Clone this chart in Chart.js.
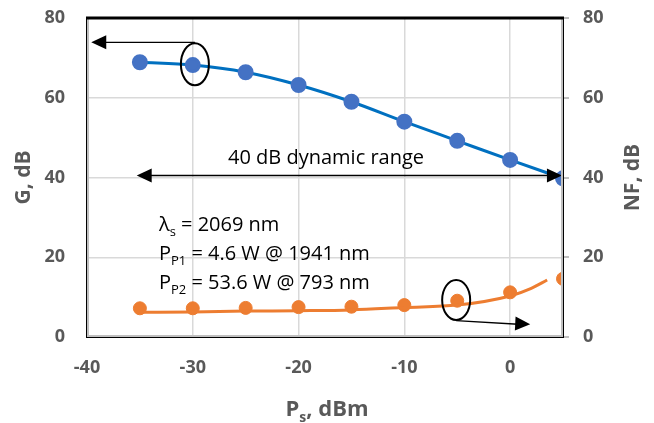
<!DOCTYPE html>
<html>
<head>
<meta charset="utf-8">
<script src="https://cdn.jsdelivr.net/npm/chart.js@4.4.1/dist/chart.umd.min.js"></script>
<style>
  html, body { margin: 0; padding: 0; background: #fff; }
  #wrap { width: 654px; height: 423px; }
</style>
</head>
<body>
<div id="wrap"><canvas id="chart"></canvas></div>
<script>
// signal power, dBm
const signalPower = [-35, -30, -25, -20, -15, -10, -5, 0, 5];
// gain G, dB (left axis)
const gainValues  = [68.9, 68.2, 66.4, 63.2, 59.0, 54.0, 49.2, 44.4, 39.8];
// noise figure NF, dB (right axis)
const nfValues    = [7.2, 7.2, 7.3, 7.5, 7.6, 8.0, 9.1, 11.2, 14.6];
// NF trend line
const nfTrendX    = [-35, -30, -25, -20, -15, -10, -5, 0, 2, 3.5];
const nfTrendY    = [6.2, 6.3, 6.5, 6.6, 6.8, 7.4, 8.0, 10.3, 12.2, 14.3];

const xTicks = [-40, -30, -20, -10, 0];
const yTicks = [0, 20, 40, 60, 80];

const FONT = "'Open Sans'";
const tickColor = "#595959";
const tickFont  = { family: "Open Sans", size: 18, weight: "bold" };

function toPoints(xs, ys)
{
    let pts = [];
    for(let i = 0; i < xs.length; i++)
    {
        pts.push({ x: xs[i], y: ys[i] });
    }
    return pts;
}

function setTicks(list)
{
    return function(scale) {
        scale.ticks = list.map(v => ({ value: v }));
    };
}

// draw text made of pieces, some as subscripts
function drawRich(ctx, parts, x, y, size, bold)
{
    let weight = bold ? "bold " : "";
    for(let i = 0; i < parts.length; i++)
    {
        let txt = parts[i][0];
        let sub = parts[i][1];
        ctx.font = weight + (sub ? Math.round(size * 0.65) : size) + "px " + FONT;
        ctx.fillText(txt, x, sub ? y + size * 0.25 : y);
        x += ctx.measureText(txt).width;
    }
}

function richWidth(ctx, parts, size, bold)
{
    let weight = bold ? "bold " : "";
    let w = 0;
    for(let i = 0; i < parts.length; i++)
    {
        ctx.font = weight + (parts[i][1] ? Math.round(size * 0.65) : size) + "px " + FONT;
        w += ctx.measureText(parts[i][0]).width;
    }
    return w;
}

function arrowHead(ctx, x1, y1, x2, y2)
{
    let ang = Math.atan2(y2 - y1, x2 - x1);
    let len = 15, half = 7;
    ctx.beginPath();
    ctx.moveTo(x2, y2);
    ctx.lineTo(x2 - len * Math.cos(ang) + half * Math.sin(ang), y2 - len * Math.sin(ang) - half * Math.cos(ang));
    ctx.lineTo(x2 - len * Math.cos(ang) - half * Math.sin(ang), y2 - len * Math.sin(ang) + half * Math.cos(ang));
    ctx.closePath();
    ctx.fill();
}

const annotations = {
    id: "annotations",
    afterDatasetsDraw(chart) {
        const ctx = chart.ctx;
        const xs = chart.scales.x;
        const ys = chart.scales.y;
        const px = v => xs.getPixelForValue(v);
        const py = v => ys.getPixelForValue(v);

        ctx.save();
        ctx.strokeStyle = "#000";
        ctx.fillStyle = "#000";

        // ellipse on the gain curve + arrow to left axis
        ctx.lineWidth = 2;
        ctx.beginPath();
        ctx.ellipse(px(-29.8), py(68.4), 14, 21, 0, 0, Math.PI * 2);
        ctx.stroke();
        ctx.lineWidth = 1.3;
        ctx.beginPath();
        ctx.moveTo(px(-29.8), py(73.9));
        ctx.lineTo(px(-39.6) + 12, py(73.9));
        ctx.stroke();
        arrowHead(ctx, px(-30), py(73.9), px(-39.6), py(73.9));

        // 40 dB dynamic range double arrow
        ctx.beginPath();
        ctx.moveTo(px(-35.3) + 12, py(40.5));
        ctx.lineTo(px(4.9) - 12, py(40.5));
        ctx.stroke();
        arrowHead(ctx, px(0), py(40.5), px(-35.3), py(40.5));
        arrowHead(ctx, px(-30), py(40.5), px(4.9), py(40.5));

        ctx.font = "20px " + FONT;
        ctx.textAlign = "center";
        ctx.textBaseline = "alphabetic";
        ctx.fillText("40 dB dynamic range", px(-17.4), py(43.5));

        // ellipse on the NF curve + arrow to right axis
        ctx.lineWidth = 2;
        ctx.beginPath();
        ctx.ellipse(px(-5.1), py(9.3), 14, 20, 0, 0, Math.PI * 2);
        ctx.stroke();
        ctx.lineWidth = 1.3;
        ctx.beginPath();
        ctx.moveTo(px(-5.1), py(4.1));
        ctx.lineTo(px(1.9) - 12, py(3.2));
        ctx.stroke();
        arrowHead(ctx, px(-5.1), py(4.1), px(1.9), py(3.2));

        // conditions text
        ctx.textAlign = "left";
        const tx = px(-33.2);
        drawRich(ctx, [["λ", false], ["s", true], [" = 2069 nm", false]], tx, py(26.7), 20, false);
        drawRich(ctx, [["P", false], ["P1", true], [" = 4.6 W @ 1941 nm", false]], tx, py(19.4), 20, false);
        drawRich(ctx, [["P", false], ["P2", true], [" = 53.6 W @ 793 nm", false]], tx, py(12.1), 20, false);
        ctx.restore();
    },
    afterDraw(chart) {
        const ctx = chart.ctx;
        const a = chart.chartArea;
        ctx.save();
        // axis lines (grey) and frame (black)
        ctx.strokeStyle = "#BFBFBF";
        ctx.lineWidth = 2;
        ctx.beginPath();
        ctx.moveTo(a.left + 1, a.top);
        ctx.lineTo(a.left + 1, a.bottom - 1);
        ctx.lineTo(a.right - 1, a.bottom - 1);
        ctx.lineTo(a.right - 1, a.top);
        ctx.stroke();
        ctx.strokeStyle = "#000";
        ctx.lineWidth = 1;
        ctx.strokeRect(a.left - 0.5, a.top, a.right - a.left + 1, a.bottom - a.top + 0.5);
        ctx.lineWidth = 3;
        ctx.beginPath();
        ctx.moveTo(a.left - 1, a.top);
        ctx.lineTo(a.right + 1, a.top);
        ctx.stroke();

        // axis titles
        ctx.fillStyle = tickColor;
        ctx.textBaseline = "middle";
        ctx.textAlign = "center";
        ctx.font = "bold 21px " + FONT;
        const midY = (a.top + a.bottom) / 2;
        ctx.save();
        ctx.translate(24, midY);
        ctx.rotate(-Math.PI / 2);
        ctx.fillText("G, dB", 0, 0);
        ctx.restore();
        ctx.save();
        ctx.translate(633, midY);
        ctx.rotate(-Math.PI / 2);
        ctx.fillText("NF, dB", 0, 0);
        ctx.restore();

        ctx.textAlign = "left";
        ctx.textBaseline = "alphabetic";
        const parts = [["P", false], ["s", true], [", dBm", false]];
        const w = richWidth(ctx, parts, 22, true);
        drawRich(ctx, parts, (a.left + a.right) / 2 - w / 2 + 2, 416, 22, true);
        ctx.restore();
    }
};

function noPad(size, isX)
{
    return function(scale) {
        if(isX) { scale.height = size; } else { scale.width = size; }
        scale.paddingTop = 0;
        scale.paddingBottom = 0;
        scale.paddingLeft = 0;
        scale.paddingRight = 0;
    };
}

new Chart(document.getElementById("chart"), {
    type: "scatter",
    data: {
        datasets: [
            {
                label: "G",
                data: toPoints(signalPower, gainValues),
                showLine: true,
                borderColor: "#0070C0",
                borderWidth: 3,
                cubicInterpolationMode: "monotone",
                pointBackgroundColor: "#4472C4",
                pointBorderColor: "#4472C4",
                pointRadius: 6.5,
                yAxisID: "y"
            },
            {
                label: "NF trend",
                data: toPoints(nfTrendX, nfTrendY),
                showLine: true,
                borderColor: "#ED7D31",
                borderWidth: 3,
                cubicInterpolationMode: "monotone",
                pointRadius: 0,
                yAxisID: "y2"
            },
            {
                label: "NF",
                data: toPoints(signalPower, nfValues),
                showLine: false,
                pointBackgroundColor: "#ED7D31",
                pointBorderColor: "#ED7D31",
                pointRadius: 6.5,
                yAxisID: "y2"
            }
        ]
    },
    options: {
        responsive: true,
        maintainAspectRatio: false,
        animation: false,
        layout: { padding: { top: 18, left: 0, right: 0, bottom: 0 } },
        plugins: {
            legend: { display: false },
            tooltip: { enabled: false }
        },
        scales: {
            x: {
                type: "linear",
                min: -40,
                max: 5,
                afterBuildTicks: setTicks(xTicks),
                afterFit: noPad(86, true),
                grid: { color: "#D9D9D9", lineWidth: 1.5, drawTicks: false },
                border: { display: false },
                ticks: { color: tickColor, font: tickFont, padding: 20 }
            },
            y: {
                position: "left",
                min: 0,
                max: 80,
                afterBuildTicks: setTicks(yTicks),
                afterFit: noPad(87, false),
                grid: { color: "#D9D9D9", lineWidth: 1.5, drawTicks: false },
                border: { display: false },
                ticks: { color: tickColor, font: tickFont, padding: 22 }
            },
            y2: {
                position: "right",
                min: 0,
                max: 80,
                afterBuildTicks: setTicks(yTicks),
                afterFit: noPad(91, false),
                grid: { drawOnChartArea: false, color: "#BFBFBF", lineWidth: 2, tickLength: 6 },
                border: { display: false },
                ticks: { color: tickColor, font: tickFont, padding: 14 }
            }
        }
    },
    plugins: [annotations]
});
</script>
</body>
</html>
